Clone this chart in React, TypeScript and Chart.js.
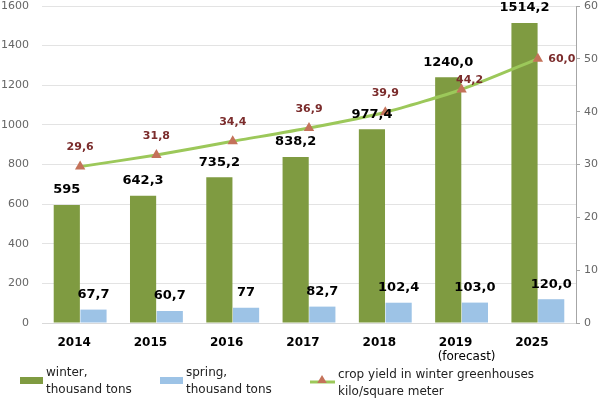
import React, { useEffect, useRef } from "react";
import { Chart, registerables } from "chart.js";

Chart.register(...registerables);

// ---- data ----
const categories = ["2014", "2015", "2016", "2017", "2018", "2019", "2025"];
const categoryNotes = ["", "", "", "", "", "(forecast)", ""];
const winterValues = [595, 642.3, 735.2, 838.2, 977.4, 1240.0, 1514.2];
const winterLabels = ["595", "642,3", "735,2", "838,2", "977,4", "1240,0", "1514,2"];
const springValues = [67.7, 60.7, 77, 82.7, 102.4, 103.0, 120.0];
const springLabels = ["67,7", "60,7", "77", "82,7", "102,4", "103,0", "120,0"];
const yieldValues = [29.6, 31.8, 34.4, 36.9, 39.9, 44.2, 50.0];
const yieldLabels = ["29,6", "31,8", "34,4", "36,9", "39,9", "44,2", "60,0"];
const leftAxis = { min: 0, max: 1600, step: 200 };
const rightAxis = { min: 0, max: 60, step: 10 };
const legendTexts = {
  winter: ["winter,", "thousand tons"],
  spring: ["spring,", "thousand tons"],
  yield: ["crop yield in winter greenhouses", "kilo/square meter"],
};

// ---- styles ----
const FONT = "'DejaVu Sans', Verdana, sans-serif";
const WINTER_COLOR = "#7f9b41";
const SPRING_COLOR = "#9dc3e6";
const LINE_COLOR = "#9cc85a";
const MARKER_COLOR = "#c4725a";
const YIELD_LABEL_COLOR = "#7b2c2c";

function drawTriangle(ctx: CanvasRenderingContext2D, x: number, y: number, r: number, color: string) {
  ctx.save();
  ctx.fillStyle = color;
  ctx.beginPath();
  ctx.moveTo(x, y - r);
  ctx.lineTo(x + r * 0.95, y + r * 0.6);
  ctx.lineTo(x - r * 0.95, y + r * 0.6);
  ctx.closePath();
  ctx.fill();
  ctx.restore();
}

const labelsPlugin = {
  id: "valueLabels",
  afterDatasetsDraw(chart: any) {
    const ctx: CanvasRenderingContext2D = chart.ctx;
    ctx.save();
    ctx.textAlign = "center";
    ctx.textBaseline = "middle";
    const mw = chart.getDatasetMeta(0);
    ctx.font = `bold 13px ${FONT}`;
    ctx.fillStyle = "#000";
    mw.data.forEach((el: any, i: number) => {
      ctx.fillText(winterLabels[i], el.x, el.y - 15);
    });
    const ms = chart.getDatasetMeta(1);
    ms.data.forEach((el: any, i: number) => {
      ctx.fillText(springLabels[i], el.x, el.y - 15);
    });
    const my = chart.getDatasetMeta(2);
    ctx.font = `bold 11px ${FONT}`;
    ctx.fillStyle = YIELD_LABEL_COLOR;
    const n = my.data.length;
    my.data.forEach((el: any, i: number) => {
      let dx = 0;
      let dy = -19;
      if (i === n - 2) { dx = 8; dy = -9; }
      if (i === n - 1) { dx = 24; dy = 0; }
      ctx.fillText(yieldLabels[i], el.x + dx, el.y + dy);
    });
    ctx.restore();
  },
};

const extrasPlugin = {
  id: "extras",
  afterDraw(chart: any) {
    const ctx: CanvasRenderingContext2D = chart.ctx;
    const xs = chart.scales.x;
    ctx.save();
    ctx.font = `12px ${FONT}`;
    ctx.fillStyle = "#000";
    ctx.textAlign = "center";
    ctx.textBaseline = "middle";
    categoryNotes.forEach((note, i) => {
      if (!note) return;
      ctx.fillText(note, xs.getPixelForValue(i) + 5, chart.chartArea.bottom + 34);
    });

    const b = chart.chartArea.bottom;
    ctx.textAlign = "left";
    ctx.textBaseline = "alphabetic";
    ctx.font = `12px ${FONT}`;

    ctx.fillStyle = WINTER_COLOR;
    ctx.fillRect(20, b + 54, 23, 7);
    ctx.fillStyle = SPRING_COLOR;
    ctx.fillRect(160, b + 54, 23, 7);

    ctx.fillStyle = "#222";
    ctx.fillText(legendTexts.winter[0], 46, b + 53);
    ctx.fillText(legendTexts.winter[1], 46, b + 70);
    ctx.fillText(legendTexts.spring[0], 186, b + 53);
    ctx.fillText(legendTexts.spring[1], 186, b + 70);

    ctx.strokeStyle = LINE_COLOR;
    ctx.lineWidth = 3;
    ctx.beginPath();
    ctx.moveTo(310, b + 59);
    ctx.lineTo(335, b + 59);
    ctx.stroke();
    drawTriangle(ctx, 322, b + 57, 5, MARKER_COLOR);
    ctx.fillStyle = "#222";
    ctx.fillText(legendTexts.yield[0], 338, b + 55);
    ctx.fillText(legendTexts.yield[1], 338, b + 72);
    ctx.restore();
  },
};

function zeroPadding(scale: any) {
  scale.paddingTop = 0;
  scale.paddingBottom = 0;
  scale.paddingLeft = 0;
  scale.paddingRight = 0;
}

export default function App() {
  const ref = useRef<HTMLCanvasElement | null>(null);
  useEffect(() => {
    if (!ref.current) return;
    const chart = new Chart(ref.current, {
      type: "bar",
      data: {
        labels: categories,
        datasets: [
          {
            type: "bar",
            label: "winter",
            data: winterValues,
            backgroundColor: WINTER_COLOR,
            yAxisID: "y",
            order: 2,
            barPercentage: 0.98,
            categoryPercentage: 0.7,
          },
          {
            type: "bar",
            label: "spring",
            data: springValues,
            backgroundColor: SPRING_COLOR,
            yAxisID: "y",
            order: 2,
            barPercentage: 0.98,
            categoryPercentage: 0.7,
          },
          {
            type: "line",
            label: "yield",
            data: yieldValues,
            borderColor: LINE_COLOR,
            borderWidth: 3,
            tension: 0.2,
            pointStyle: "triangle",
            pointRadius: 6,
            pointBackgroundColor: MARKER_COLOR,
            pointBorderColor: MARKER_COLOR,
            pointBorderWidth: 0,
            yAxisID: "y1",
            order: 1,
          } as any,
        ],
      },
      options: {
        responsive: false,
        animation: false,
        layout: { padding: { top: 5, left: 0, right: 0, bottom: 0 } },
        plugins: {
          legend: { display: false },
          tooltip: { enabled: false },
        },
        scales: {
          x: {
            grid: { display: false, drawTicks: false },
            border: { display: true, color: "#d9d9d9", width: 1 },
            ticks: {
              font: { family: FONT, size: 12, weight: "bold" },
              color: "#000",
              padding: 13,
              labelOffset: -6,
              maxRotation: 0,
              autoSkip: false,
            },
            afterFit(scale: any) {
              scale.height = 76;
              zeroPadding(scale);
            },
          },
          y: {
            position: "left",
            min: leftAxis.min,
            max: leftAxis.max,
            grid: { color: "#e3e3e3", drawTicks: false, lineWidth: 1 },
            border: { display: false },
            ticks: {
              stepSize: leftAxis.step,
              font: { family: FONT, size: 11 },
              color: "#666",
              padding: 13,
              callback: (v: any) => String(v),
            },
            afterFit(scale: any) {
              scale.width = 42;
              zeroPadding(scale);
            },
          },
          y1: {
            position: "right",
            min: rightAxis.min,
            max: rightAxis.max,
            grid: { drawOnChartArea: false, drawTicks: true, tickLength: 4, color: "#a6a6a6" },
            border: { display: true, color: "#a6a6a6", width: 1 },
            ticks: {
              stepSize: rightAxis.step,
              font: { family: FONT, size: 11 },
              color: "#666",
              padding: 4,
              callback: (v: any) => String(v),
            },
            afterFit(scale: any) {
              scale.width = 24;
              zeroPadding(scale);
            },
          },
        },
      } as any,
      plugins: [labelsPlugin, extrasPlugin],
    });
    return () => chart.destroy();
  }, []);

  return (
    <div style={{ position: "fixed", left: 0, top: 0, width: 600, height: 399, background: "#fff" }}>
      <canvas ref={ref} width={600} height={399} style={{ display: "block" }} />
    </div>
  );
}
